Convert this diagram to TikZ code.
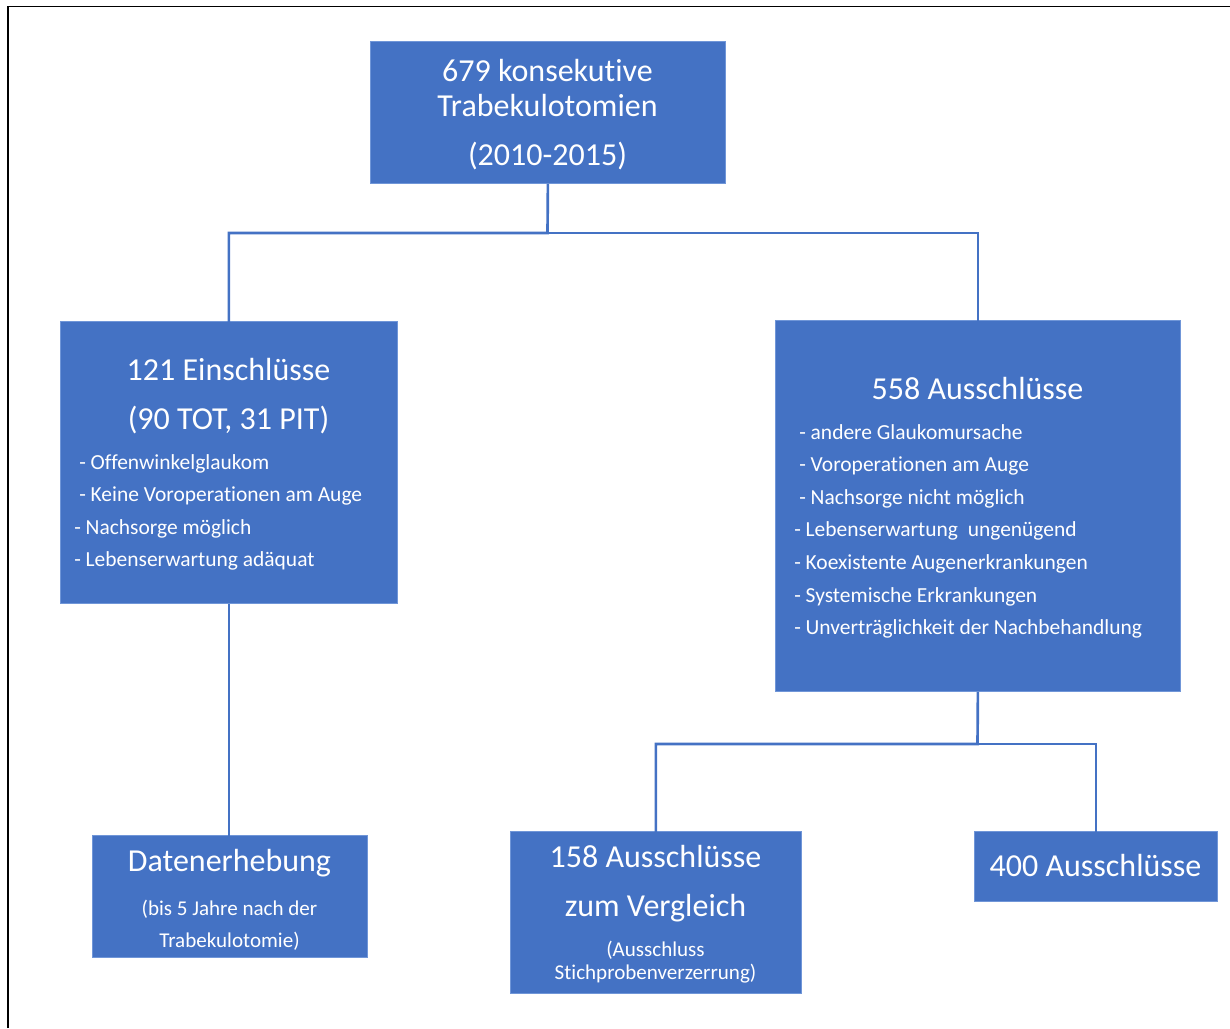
\documentclass[tikz,border=0pt]{standalone}
\usepackage{fontspec}
\setmainfont{Carlito}[Ligatures=NoCommon, Contextuals=NoAlternate, RawFeature={-clig;-dlig}]
\usetikzlibrary{positioning,calc}
\definecolor{boxblue}{HTML}{4472C4}
\definecolor{boxedge}{HTML}{7096D8}

\begin{document}
\begin{tikzpicture}[x=0.75pt, y=-0.75pt, box/.style={
% The shape:
rectangle, anchor=north west,
% The size:
inner sep=0pt,
% The colours:
fill=boxblue, draw=boxedge, line width=0.6pt
},
head/.style={text=white, font=\fontsize{24}{28}\selectfont, anchor=base, inner sep=0pt},
item/.style={text=white, font=\fontsize{16.1}{19}\selectfont, anchor=base west, inner sep=0pt},
small/.style={text=white, font=\fontsize{15.8}{18}\selectfont, anchor=base, inner sep=0pt},
link/.style={draw=boxblue, line width=2pt}]

	\useasboundingbox (0,0) rectangle (1230,1028);
	\draw[line width=1.2pt] (8,1028) -- (8,6.5) -- (1230,6.5);

	% boxes
	\node (top) [box, minimum width=266.25pt, minimum height=106.5pt] at (370,41) {};
	\node (incl) [box, minimum width=252.75pt, minimum height=211.5pt] at (60,321) {};
	\node (excl) [box, minimum width=303.75pt, minimum height=278.25pt] at (775,320) {};
	\node (data) [box, minimum width=206.25pt, minimum height=91.5pt] at (92,835) {};
	\node (cmp) [box, minimum width=218.25pt, minimum height=121.5pt] at (510,831) {};
	\node (rest) [box, minimum width=182.25pt, minimum height=52.5pt] at (974,831) {};

	% texts
	\node (topA) [head] at (547.5,81) {679 konsekutive};
	\node (topB) [head] at (547.5,116) {Trabekulotomien};
	\node (topC) [head] at (547.5,165) {(2010-2015)};

	\node (inclA) [head] at (228.5,380) {121 Einschlüsse};
	\node (inclB) [head] at (228.5,429) {(90 TOT, 31 PIT)};
	\foreach \xx/\yy/\t [count=\i] in {79/469/{- Offenwinkelglaukom}, 79/501/{- Keine Voroperationen am Auge}, 74/534/{- Nachsorge möglich}, 74/566/{- Lebenserwartung adäquat}}
		\node (inclItem\i) [item] at (\xx,\yy) {\t};

	\node (exclA) [head] at (977.5,399) {558 Ausschlüsse};
	\foreach \xx/\yy/\t [count=\i] in {799/439/{- andere Glaukomursache}, 799/471/{- Voroperationen am Auge}, 799/504/{- Nachsorge nicht möglich}, 794/536/{- Lebenserwartung\ \ ungenügend}, 794/569/{- Koexistente Augenerkrankungen}, 794/602/{- Systemische Erkrankungen}, 794/634/{- Unverträglichkeit der Nachbehandlung}}
		\node (exclItem\i) [item] at (\xx,\yy) {\t};

	\node (dataA) [head] at (229.5,871) {Datenerhebung};
	\node (dataB) [small] at (229.5,915) {(bis 5 Jahre nach der};
	\node (dataC) [small] at (229.5,947) {Trabekulotomie)};

	\node (cmpA) [head] at (655.5,867) {158 Ausschlüsse};
	\node (cmpB) [head] at (655.5,916) {zum Vergleich};
	\node (cmpC) [small] at (655.5,956) {(Ausschluss};
	\node (cmpD) [small] at (655.5,979) {Stichprobenverzerrung)};

	\node (restA) [head] at (1095.5,876) {400 Ausschlüsse};

	% connectors
	\coordinate (split1) at (547.5,233);
	\coordinate (split2) at (977.5,744);
	\draw[link] (top.south) -- (split1) -| ([yshift=-3pt]incl.north);
	\draw[link] (split1) -| ([yshift=-3pt]excl.north);
	\draw[link] (incl.south) -- ([yshift=-3pt]incl.south |- data.north);
	\draw[link] (excl.south) -- (split2) -| ([yshift=-3pt]cmp.north);
	\draw[link] (split2) -| ([yshift=-3pt]rest.north);
\end{tikzpicture}
\end{document}
